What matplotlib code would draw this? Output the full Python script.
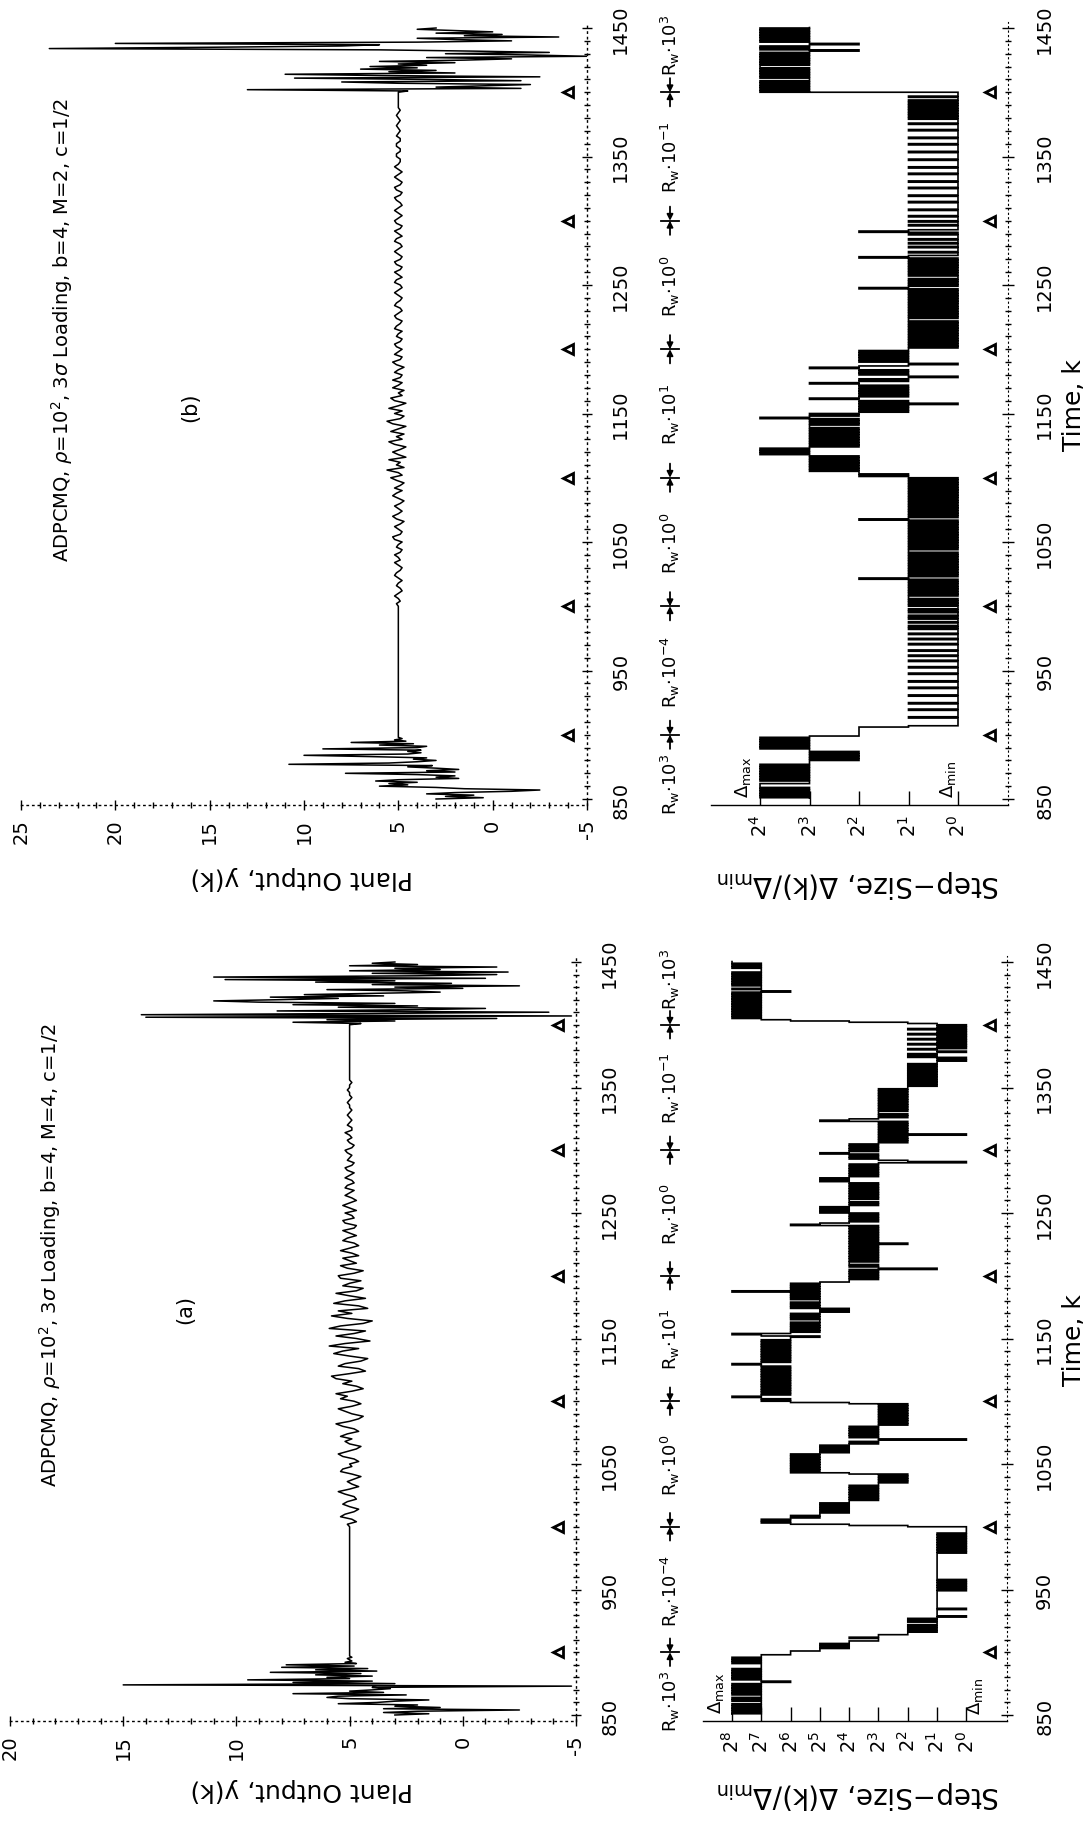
import numpy as np
import matplotlib
matplotlib.use("Agg")
import matplotlib.pyplot as plt
from matplotlib.ticker import FixedLocator, MultipleLocator, NullLocator
from matplotlib.transforms import blended_transform_factory

plt.rcParams['font.family'] = ['DejaVu Sans']
plt.rcParams['mathtext.fontset'] = 'dejavusans'

# ------------------------------------------------------------------ data
k_samples = list(range(850, 1451))
k_ticks = [850, 950, 1050, 1150, 1250, 1350, 1450]
rw_bounds = [900, 1000, 1100, 1200, 1300, 1400]
rw_label_k = [862, 950, 1050, 1150, 1250, 1350, 1437]
rw_labels = [r'R$_{\rm w}$$\cdot$10$^{3}$', r'R$_{\rm w}$$\cdot$10$^{-4}$', r'R$_{\rm w}$$\cdot$10$^{0}$',
             r'R$_{\rm w}$$\cdot$10$^{1}$', r'R$_{\rm w}$$\cdot$10$^{0}$', r'R$_{\rm w}$$\cdot$10$^{-1}$',
             r'R$_{\rm w}$$\cdot$10$^{3}$']

titles = {'a': r'ADPCMQ, $\rho$=10$^2$, 3$\sigma$ Loading, b=4, M=4, c=1/2',
          'b': r'ADPCMQ, $\rho$=10$^2$, 3$\sigma$ Loading, b=4, M=2, c=1/2'}

ytick_a = [20, 15, 10, 5, 0, -5]
ytick_b = [25, 20, 15, 10, 5, 0, -5]
exp_ticks_a = [8, 7, 6, 5, 4, 3, 2, 1, 0]
exp_ticks_b = [4, 3, 2, 1, 0]

# step-size exponents log2(Delta/Delta_min), one digit per sample k = 850..1450
step_exp_a = "".join([
    "8787878787", "7878778787", "8787876787", "8787878777", "7878787766",
    "6554545443", "3433221212", "1211212101", "1111011111", "1111111110",
    "1010101011", "1111111111", "1111111110", "1010101010", "1010100000",
    "2467676565", "5454545454", "4343434343", "4343323232", "3246565656",
    "5656565654", "5454543430", "3434343434", "3232323232", "3232323246",
    "7678767676", "7676767676", "7676767678", "7676767676", "7676767676",
    "6578656565", "6565565656", "5454656565", "5656565856", "5656544343",
    "4343413434", "4343434343", "4343424343", "4343434343", "6543434343",
    "5454543434", "4343434343", "4343454543", "4343434343", "0234343543",
    "4343432323", "2303232323", "2325432323", "3232323232", "3232323232",
    "2121212121", "2121212121", "1010212101", "2010201020", "1020102010",
    "1246787878", "7878787878", "7878786787", "7878787878", "7877787878",
    "8"])
step_exp_b = "".join([
    "3434343434", "4433434343", "4343434333", "2323232334", "3434343432",
    "2222221000", "0001000001", "0000100000", "1000001000", "0100000100",
    "0010000100", "0100010000", "1000100010", "0010100100", "1010010100",
    "1010101101", "0101010101", "0210101010", "1010101010", "1011010101",
    "0101010101", "0101010210", "1010101010", "1010101010", "1010101010",
    "1212232323", "2323232343", "4343232323", "2323232323", "3232324323",
    "2121212021", "2321212121", "2123212101", "2121232101", "2121212121",
    "1010101010", "1010101010", "1011010101", "0101010101", "0101010210",
    "1010100101", "0101010101", "0210010001", "0010010001", "0210001001",
    "0001000010", "0000100001", "0000010000", "1000001000", "0100000100",
    "0001000001", "0000100000", "1000010001", "0101010101", "0101001000",
    "4343434343", "3434343434", "4343434343", "4324343234", "3434343434",
    "3"])

# plant output y(k)
burst1_a = [3.0, 1.5, 3.5, 2.0, -2.5, 3.5, 1.0, 3.0, 2.0, 5.5,
            3.8, 3.0, 1.5, 5.0, 6.0, 5.5, 2.5, 7.5, 3.5, 5.0,
            4.0, 3.2, 4.0, -4.8, 15.0, 3.0, 7.5, 4.0, 9.5, 5.0,
            6.0, 4.0, 6.5, 4.5, 8.5, 3.8, 6.5, 4.2, 8.0, 4.8,
            7.8, 4.7, 5.2, 4.9, 5.0, 5.1, 4.9, 5.0, 5.0, 5.0]
calm_a = [5.0, 5.0, 5.0]
noise_a = [5.0, 5.1, 4.7, 4.9, 5.4, 5.2, 4.8, 4.6, 5.0, 5.3,
           5.1, 4.7, 4.8, 5.2, 5.5, 5.0, 4.6, 4.9, 5.1, 4.8,
           4.5, 4.9, 5.4, 5.3, 4.9, 5.0, 4.6, 4.8, 5.3, 5.5,
           5.1, 4.7, 4.5, 5.0, 5.2, 4.9, 5.4, 5.1, 4.6, 4.8,
           5.3, 5.6, 5.0, 4.6, 4.4, 4.9, 5.2, 5.5, 4.9, 4.5,
           4.8, 5.4, 5.1, 5.6, 4.9, 4.4, 4.7, 5.3, 4.9, 5.6,
           5.8, 5.0, 4.3, 4.6, 5.5, 5.2, 4.5, 4.2, 5.0, 5.7,
           5.3, 4.6, 5.9, 5.2, 4.1, 4.7, 5.6, 4.8, 4.3, 5.9,
           5.4, 4.4, 4.0, 5.1, 5.8, 4.9, 5.5, 4.2, 4.6, 5.7,
           5.2, 4.3, 5.0, 5.6, 4.7, 4.4, 5.3, 5.0, 4.5, 5.4,
           5.5, 4.8, 4.4, 5.1, 5.4, 4.7, 5.0, 5.3, 4.6, 4.9,
           5.4, 5.0, 4.6, 4.8, 5.3, 5.1, 4.7, 5.0, 5.3, 4.8,
           4.7, 5.2, 5.3, 4.8, 4.9, 5.2, 4.7, 5.0, 5.3, 5.0,
           4.7, 4.9, 5.2, 5.0, 4.8, 5.2, 5.1, 4.8, 4.9, 5.2,
           5.0, 4.8, 5.1, 5.2, 4.9, 4.8, 5.1, 5.0, 4.9, 5.1,
           5.2, 4.9, 4.8, 5.0, 5.1, 4.9, 5.0, 5.2, 4.9, 4.9,
           5.1, 5.0, 4.9, 5.0, 5.1, 5.0, 4.9, 5.0, 5.0, 5.1,
           5.0, 4.9, 5.0, 5.0, 5.1, 5.0, 5.0, 4.9, 5.0, 5.0,
           5.0, 5.0, 5.0, 5.0, 5.0, 5.0, 5.0, 5.0, 5.0, 5.0,
           5.0, 5.0, 5.0, 5.0, 5.0, 5.0, 5.0, 5.0, 5.0, 5.0]
burst2_a = [5.0, 4.5, 7.5, 3.0, 6.0, -1.5, 14.0, -4.8, 14.2, 4.0,
            -3.8, 8.2, 2.0, -1.0, 5.5, 2.0, 7.5, 3.0, 9.0, 11.0,
            8.0, 5.5, 8.5, 3.5, 7.0, 4.0, 1.0, 2.5, 6.0, 0.0,
            3.0, -2.5, 4.0, 0.5, 6.5, 3.0, 10.5, -1.0, 11.0, 2.0,
            -1.5, 4.0, -2.0, 5.0, 1.0, 3.0, -1.5, 5.0, 2.0, 4.0, 3.0]

burst1_b = [3.0, 0.5, 2.5, 1.0, 3.5, 2.0, -1.0, -2.5, 1.5, 3.0,
            6.0, 4.5, 5.5, 4.0, 6.2, 5.0, 1.8, 3.0, 2.0, 4.0,
            7.8, 2.0, 3.5, 1.8, 3.0, 4.5, 3.2, 10.8, 5.5, 4.0,
            3.0, 4.2, 3.5, 6.5, 10.0, 4.5, 3.8, 4.5, 3.8, 9.0,
            4.0, 3.5, 6.0, 4.2, 7.5, 4.6, 5.2, 4.8, 5.0, 5.0]
calm_b = [5.0, 5.0, 5.0]
noise_b = [5.0, 5.1, 4.9, 5.0, 5.2, 5.0, 4.8, 4.9, 5.1, 5.0,
           4.8, 5.0, 5.2, 5.1, 4.9, 4.8, 5.0, 5.2, 4.9, 5.0,
           5.2, 4.9, 4.8, 5.1, 5.0, 4.8, 5.2, 5.3, 4.9, 4.8,
           5.0, 5.2, 4.9, 4.7, 5.1, 5.3, 5.0, 4.8, 5.0, 5.2,
           4.9, 4.7, 5.0, 5.3, 5.1, 4.8, 5.2, 4.9, 4.7, 5.1,
           5.4, 4.8, 5.0, 5.6, 4.7, 5.1, 4.9, 5.5, 4.6, 5.0,
           5.3, 4.9, 4.6, 5.2, 5.5, 4.8, 5.1, 4.7, 5.4, 5.0,
           4.6, 5.3, 5.6, 4.9, 4.7, 5.2, 4.8, 5.5, 5.0, 4.6,
           5.2, 5.4, 4.8, 5.0, 4.7, 5.3, 5.0, 4.8, 5.3, 4.9,
           4.8, 5.2, 5.0, 4.7, 5.1, 5.3, 4.9, 4.8, 5.2, 5.0,
           4.8, 5.1, 5.2, 4.9, 4.8, 5.1, 5.0, 4.8, 5.2, 5.1,
           4.9, 4.8, 5.1, 5.2, 5.0, 4.8, 4.9, 5.2, 5.1, 4.9,
           4.8, 5.0, 5.2, 5.0, 4.8, 4.9, 5.2, 5.1, 4.8, 5.0,
           5.2, 4.9, 4.8, 5.1, 5.2, 4.9, 4.8, 5.0, 5.2, 5.0,
           4.8, 4.9, 5.2, 5.1, 4.8, 5.0, 5.2, 4.9, 4.8, 5.1,
           5.2, 5.0, 4.8, 5.0, 5.2, 5.0, 4.8, 4.9, 5.1, 5.2,
           4.9, 4.8, 5.1, 5.2, 4.9, 4.8, 5.0, 5.2, 5.0, 4.8,
           5.0, 5.2, 5.0, 4.9, 4.9, 5.1, 5.1, 4.9, 4.9, 5.1,
           5.1, 4.9, 4.9, 5.1, 5.0, 4.9, 5.0, 5.1, 5.0, 4.9,
           5.0, 5.1, 5.0, 4.9, 5.0, 5.0, 5.0, 5.0, 5.0, 5.0]
burst2_b = [5.0, 4.5, 13.0, -1.5, 3.0, 0.5, -2.0, 5.0, 8.0, -1.5,
            3.5, 10.5, -2.5, 6.0, 11.0, 2.0, 5.5, 3.0, 7.0, 4.0,
            6.5, 3.5, 5.0, 2.0, 6.0, 1.5, -1.0, 3.5, -5.0, -2.0,
            2.5, -3.0, 1.0, 6.0, 23.5, 15.0, 8.0, 6.0, 20.0, 4.0,
            -1.0, 2.0, 4.0, -3.5, 1.5, -0.5, 3.0, 0.0, 2.0, 4.0, 3.0]

k_burst1 = list(range(850, 900))
k_calm = [930, 965, 998]
k_noise = list(range(1000, 1400, 2))
k_burst2 = list(range(1400, 1451))

# ------------------------------------------------------------------ layout (scan pixel coordinates)
W, H = 1089, 1824
KMIN, KMAX = 845, 1455
fig = plt.figure(figsize=(W / 100, H / 100), dpi=100)
fig.patch.set_facecolor('white')

ov = fig.add_axes([0, 0, 1, 1])
ov.set_xlim(0, W)
ov.set_ylim(H, 0)
ov.axis('off')
ov.set_autoscale_on(False)


def rect(x0, x1, ytop, ybot):
    return [x0 / W, 1 - ybot / H, (x1 - x0) / W, (ybot - ytop) / H]


panels = {
    'b': dict(k850=800.0, kscale=1.285, plot_x=(21, 587), vlim=(25, -5), vticks=ytick_b,
              step_x=(710.5, 1007.5), elim=(5, -1.0), eticks=exp_ticks_b, exps=step_exp_b,
              burst1=burst1_b, calm=calm_b, noise=noise_b, burst2=burst2_b,
              title_xy=(62, 330), tag='(b)', tag_xy=(190, 407), tri_v=-4.0, tri_e=-0.65,
              dmax_x=743, dmin_x=948, time_y=405, lab_y=878, slab_y=884),
    'a': dict(k850=1716.0, kscale=1.255, plot_x=(10, 576), vlim=(20, -5), vticks=ytick_a,
              step_x=(702.7, 1007.4), elim=(9, -1.4), eticks=exp_ticks_a, exps=step_exp_a,
              burst1=burst1_a, calm=calm_a, noise=noise_a, burst2=burst2_a,
              title_xy=(50, 1255), tag='(a)', tag_xy=(185, 1310), tri_v=-4.2, tri_e=-0.8,
              dmax_x=716, dmin_x=975, time_y=1340, lab_y=1790, slab_y=1795),
}

FS_TICK = 14
for key, P in panels.items():
    ytop = P['k850'] - (KMAX - 850) * P['kscale']
    ybot = P['k850'] - (KMIN - 850) * P['kscale']

    # ---------------- plant output axes
    ax = fig.add_axes(rect(P['plot_x'][0], P['plot_x'][1], ytop, ybot))
    ax.patch.set_alpha(0)
    ks = k_burst1 + k_calm + k_noise + k_burst2
    vs = P['burst1'] + P['calm'] + P['noise'] + P['burst2']
    ax.plot(vs, ks, color='k', lw=1.1)
    ax.set_xlim(*P['vlim'])
    ax.set_ylim(KMIN, KMAX)
    ax.plot([P['tri_v']] * len(rw_bounds), rw_bounds, ls='none', marker='<', ms=7,
            mfc='white', mec='k', mew=2)
    for s in ['top', 'left']:
        ax.spines[s].set_visible(False)
    for s in ['bottom', 'right']:
        ax.spines[s].set_linestyle((0, (1, 3)))
        ax.spines[s].set_linewidth(1.0)
    ax.xaxis.set_major_locator(FixedLocator(P['vticks']))
    ax.set_xticklabels([str(v) if v >= 0 else '-' + str(-v) for v in P['vticks']])
    ax.xaxis.set_minor_locator(MultipleLocator(1))
    ax.yaxis.tick_right()
    ax.yaxis.set_major_locator(FixedLocator(k_ticks))
    ax.yaxis.set_minor_locator(MultipleLocator(10))
    ax.tick_params(axis='x', which='major', direction='inout', length=7, width=1, labelrotation=90,
                   labelsize=FS_TICK, pad=6)
    ax.tick_params(axis='x', which='minor', direction='inout', length=4, width=1)
    ax.tick_params(axis='y', which='major', direction='inout', length=7, width=1, labelrotation=90,
                   labelsize=FS_TICK, pad=14, left=False, right=True)
    ax.tick_params(axis='y', which='minor', direction='inout', length=4, width=1, left=False, right=True)
    for t in ax.get_yticklabels():
        t.set_va('center')

    # R_w annotations (x in scan pixels, y in k)
    tr = blended_transform_factory(ov.transData, ax.transData)
    xc = 670
    for kc, lab in zip(rw_label_k, rw_labels):
        ov.text(xc, kc, lab, transform=tr, rotation=90, ha='center', va='center', fontsize=13)
    for b in rw_bounds:
        ov.plot([xc - 9, xc + 9], [b, b], color='k', lw=1.3, transform=tr)
        for d in (-11, 11):
            ov.annotate('', xy=(xc, b), xytext=(xc, b + d), xycoords=tr, textcoords=tr,
                        arrowprops=dict(arrowstyle='-|>', lw=1.3, color='k', mutation_scale=9,
                                        shrinkA=0, shrinkB=0))

    # ---------------- step-size axes
    ax2 = fig.add_axes(rect(P['step_x'][0], P['step_x'][1], ytop, ybot))
    ax2.patch.set_alpha(0)
    ax2.set_xscale('log', base=2)
    vals = [2.0 ** int(c) for c in P['exps']]
    edges_k = k_samples + [k_samples[-1] + 1]
    ax2.stairs(vals, edges_k, orientation='horizontal', baseline=None, color='k', lw=1.2)
    ax2.set_xlim(2.0 ** P['elim'][0], 2.0 ** P['elim'][1])
    ax2.set_ylim(KMIN, KMAX)
    ax2.plot([2.0 ** P['tri_e']] * len(rw_bounds), rw_bounds, ls='none', marker='<', ms=7,
             mfc='white', mec='k', mew=2)
    for s in ['top', 'left']:
        ax2.spines[s].set_visible(False)
    ax2.spines['right'].set_linestyle((0, (1, 3)))
    ax2.spines['bottom'].set_linewidth(1.0)
    ax2.xaxis.set_major_locator(FixedLocator([2.0 ** e for e in P['eticks']]))
    ax2.xaxis.set_minor_locator(NullLocator())
    ax2.set_xticklabels([r'$2^{%d}$' % e for e in P['eticks']])
    ax2.yaxis.tick_right()
    ax2.yaxis.set_major_locator(FixedLocator(k_ticks))
    ax2.yaxis.set_minor_locator(MultipleLocator(10))
    ax2.tick_params(axis='x', which='major', direction='in', length=10, width=1, labelrotation=90,
                    labelsize=FS_TICK, pad=6)
    ax2.tick_params(axis='y', which='major', direction='inout', length=8, width=1, labelrotation=90,
                    labelsize=FS_TICK, pad=16, left=False, right=True)
    ax2.tick_params(axis='y', which='minor', direction='inout', length=5, width=1, left=False, right=True)
    for t in ax2.get_yticklabels():
        t.set_va('center')
    tr2 = blended_transform_factory(ov.transData, ax2.transData)
    ov.text(P['dmax_x'], 868, r'$\Delta_{\rm max}$', transform=tr2, rotation=90, ha='center',
            va='center', fontsize=13)
    ov.text(P['dmin_x'], 866, r'$\Delta_{\rm min}$', transform=tr2, rotation=90, ha='center',
            va='center', fontsize=13)

    # ---------------- texts
    ov.text(P['title_xy'][0], P['title_xy'][1], titles[key], rotation=90, ha='center', va='center',
            fontsize=14)
    ov.text(P['tag_xy'][0], P['tag_xy'][1], P['tag'], rotation=90, ha='center', va='center', fontsize=15)
    ov.text(302, P['lab_y'], 'Plant Output, y(k)', rotation=180, ha='center', va='center', fontsize=18)
    ov.text(858, P['slab_y'], r'Step$-$Size, $\Delta$(k)/$\Delta_{\rm min}$', rotation=180,
            ha='center', va='center', fontsize=20)
    ov.text(1074, P['time_y'], 'Time, k', rotation=90, ha='center', va='center', fontsize=18)

fig.savefig('out.png', dpi=100, facecolor='white')
